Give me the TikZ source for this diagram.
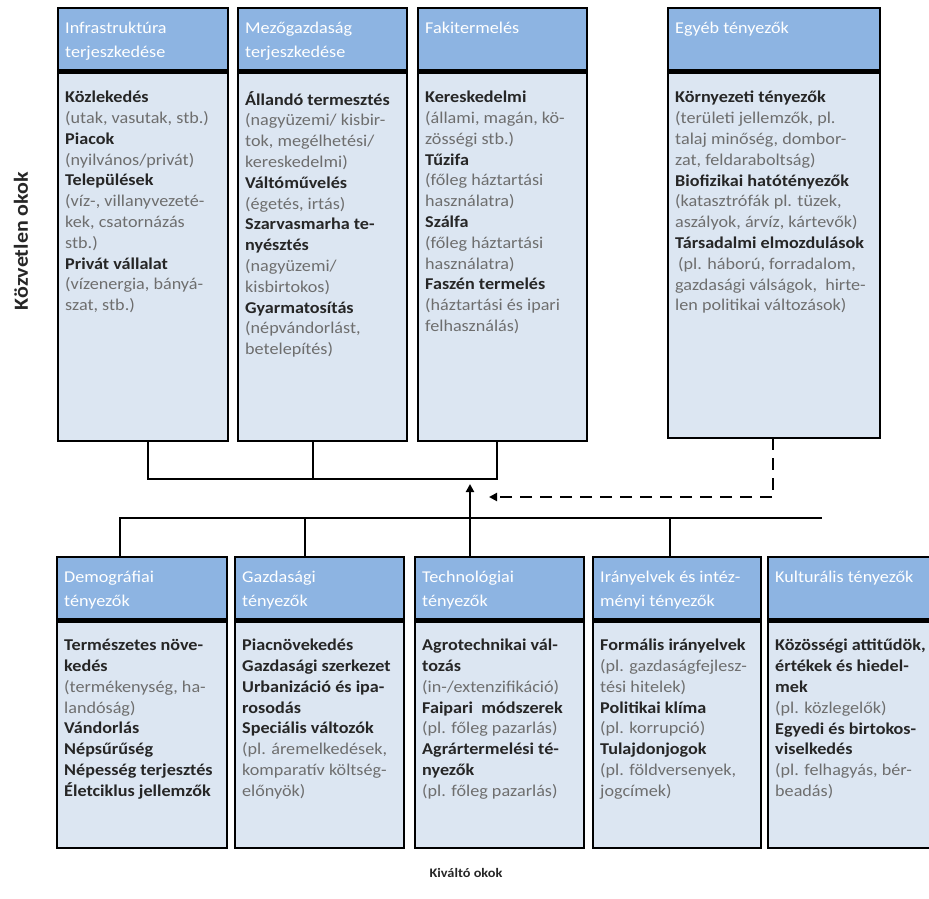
\documentclass[tikz,border=0pt]{standalone}
\usepackage{fontspec}
\setmainfont{Carlito}[FakeStretch=1.1]
\usetikzlibrary{arrows.meta,calc}

\definecolor{hdrblue}{HTML}{8DB4E2}
\definecolor{bodyblue}{HTML}{DCE6F2}
\definecolor{termcol}{HTML}{262626}
\definecolor{notecol}{HTML}{6E6E6E}

\newcommand\kterm[1]{{\bfseries\color{termcol}#1}}
\newcommand\knote[1]{{\color{notecol}#1}}

\tikzset{
  frame/.style={draw=black, line width=2.8pt, inner sep=0pt, outer sep=0pt},
  sepline/.style={line width=5pt, draw=black},
  hdrtext/.style={text=white, align=left, inner sep=0pt,
    font=\fontsize{16.5}{23.5}\selectfont},
  bodytext/.style={align=left, inner sep=0pt,
    font=\fontsize{16.5}{20.8}\selectfont},
  conn/.style={line width=2.6pt, draw=black},
  dconn/.style={line width=2.6pt, draw=black, dash pattern=on 12pt off 8pt},
  sidelabel/.style={font=\bfseries, text=termcol}
}

% #1 name, #2 left, #3 top, #4 right, #5 bottom, #6 header line, #7 header, #8 body
\newcommand\causebox[8]{%
  \fill[bodyblue] (#2,#6) rectangle (#4,#5);
  \fill[hdrblue] (#2,#3) rectangle (#4,#6);
  \draw[sepline] (#2,#6) -- (#4,#6);
  \node[frame, anchor=north west, minimum width={(#4-#2)*1pt},
        minimum height={(#5-#3)*1pt}] (#1) at (#2,#3) {};
  \node[hdrtext, anchor=north west] (#1-head) at (#2+7,#3+14) {#7};
  \node[bodytext, anchor=north west] (#1-body) at (#2+7,#6+19) {#8};
}

\begin{document}
\begin{tikzpicture}[x=1pt,y=-1pt]
\useasboundingbox (0,0) rectangle (929,899);

% upper row: direct causes
\causebox{infra}{58}{8}{228}{441}{72}{Infrastruktúra\\terjeszkedése}{%
  \kterm{Közlekedés}\\ \knote{(utak, vasutak, stb.)}\\
  \kterm{Piacok}\\ \knote{(nyilvános/privát)}\\
  \kterm{Települések}\\ \knote{(víz-, villanyvezeté-}\\
  \knote{kek, csatornázás}\\ \knote{stb.)}\\
  \kterm{Privát vállalat}\\ \knote{(vízenergia, bányá-}\\
  \knote{szat, stb.)}}
\causebox{agri}{238}{8}{407}{441}{72}{Mezőgazdaság\\terjeszkedése}{%
  \kterm{Állandó termesztés}\\ \knote{(nagyüzemi/ kisbir-}\\
  \knote{tok, megélhetési/}\\ \knote{kereskedelmi)}\\
  \kterm{Váltóművelés}\\ \knote{(égetés, irtás)}\\
  \kterm{Szarvasmarha te-}\\ \kterm{nyésztés}\\
  \knote{(nagyüzemi/}\\ \knote{kisbirtokos)}\\
  \kterm{Gyarmatosítás}\\ \knote{(népvándorlást,}\\
  \knote{betelepítés)}}
\causebox{wood}{418}{8}{587}{441}{72}{Fakitermelés}{%
  \kterm{Kereskedelmi}\\ \knote{(állami, magán, kö-}\\
  \knote{zösségi stb.)}\\ \kterm{Tűzifa}\\
  \knote{(főleg háztartási}\\ \knote{használatra)}\\
  \kterm{Szálfa}\\ \knote{(főleg háztartási}\\
  \knote{használatra)}\\ \kterm{Faszén termelés}\\
  \knote{(háztartási és ipari}\\ \knote{felhasználás)}}
\causebox{other}{668}{8}{880}{438}{72}{Egyéb tényezők}{%
  \kterm{Környezeti tényezők}\\ \knote{(területi jellemzők, pl.}\\
  \knote{talaj minőség, dombor-}\\ \knote{zat, feldaraboltság)}\\
  \kterm{Biofizikai hatótényezők}\\ \knote{(katasztrófák pl. tüzek,}\\
  \knote{aszályok, árvíz, kártevők)}\\ \kterm{Társadalmi elmozdulások}\\
  \hspace*{3pt}\knote{(pl. háború, forradalom,}\\
  \knote{gazdasági válságok,\ \ hirte-}\\ \knote{len politikai változások)}}

% lower row: underlying causes
\causebox{demo}{57}{557}{227}{848}{620}{Demográfiai\\tényezők}{%
  \kterm{Természetes növe-}\\ \kterm{kedés}\\
  \knote{(termékenység, ha-}\\ \knote{landóság)}\\
  \kterm{Vándorlás}\\ \kterm{Népsűrűség}\\
  \kterm{Népesség terjesztés}\\ \kterm{Életciklus jellemzők}}
\causebox{econ}{235}{557}{404}{848}{620}{Gazdasági\\tényezők}{%
  \kterm{Piacnövekedés}\\ \kterm{Gazdasági szerkezet}\\
  \kterm{Urbanizáció és ipa-}\\ \kterm{rosodás}\\
  \kterm{Speciális változók}\\ \knote{(pl. áremelkedések,}\\
  \knote{komparatív költség-}\\ \knote{előnyök)}}
\causebox{tech}{415}{557}{584}{848}{620}{Technológiai\\tényezők}{%
  \kterm{Agrotechnikai vál-}\\ \kterm{tozás}\\
  \knote{(in-/extenzifikáció)}\\ \kterm{Faipari\ \ módszerek}\\
  \knote{(pl. főleg pazarlás)}\\ \kterm{Agrártermelési té-}\\
  \kterm{nyezők}\\ \knote{(pl. főleg pazarlás)}}
\causebox{policy}{593}{557}{761}{848}{620}{Irányelvek és intéz-\\ményi tényezők}{%
  \kterm{Formális irányelvek}\\ \knote{(pl. gazdaságfejlesz-}\\
  \knote{tési hitelek)}\\ \kterm{Politikai klíma}\\
  \knote{(pl. korrupció)}\\ \kterm{Tulajdonjogok}\\
  \knote{(pl. földversenyek,}\\ \knote{jogcímek)}}
\causebox{cult}{768}{557}{940}{848}{620}{Kulturális tényezők}{%
  \kterm{Közösségi attitűdök,}\\ \kterm{értékek és hiedel-}\\
  \kterm{mek}\\ \knote{(pl. közlegelők)}\\
  \kterm{Egyedi és birtokos-}\\ \kterm{viselkedés}\\
  \knote{(pl. felhagyás, bér-}\\ \knote{beadás)}}

% junction points of the connectors
\coordinate (ja) at (148,479);
\coordinate (jb) at (313,479);
\coordinate (jc) at (497,479);
\coordinate (ka) at (120,518);
\coordinate (kb) at (305,518);
\coordinate (kc) at (470,518);
\coordinate (kd) at (670,518);
\coordinate (ke) at (822,518);
\coordinate (tip) at (470,484);
\coordinate (dj) at (773,497);
\coordinate (dtip) at (489,497);

% upper bus
\draw[conn] (infra.south -| ja) -- (ja) -- (jc) -- (wood.south -| jc);
\draw[conn] (agri.south -| jb) -- (jb);
% lower bus
\draw[conn] (demo.north -| ka) -- (ka) -- (ke);
\draw[conn] (econ.north -| kb) -- (kb);
\draw[conn] (policy.north -| kd) -- (kd);
\draw[conn, -{Triangle[length=8pt,width=8pt]}] (tech.north -| kc) -- (tip);
% other factors, dashed
\draw[dconn, -{Triangle[length=8pt,width=8pt]}] (other.south -| dj) -- (dj) -- (dtip);

% axis labels
\node[sidelabel, rotate=90, font=\fontsize{20}{22}\selectfont\bfseries] (direct) at (21,241) {Közvetlen okok};
\node[sidelabel, font=\fontsize{13}{15}\selectfont\bfseries] (underlying) at (466,873) {Kiváltó okok};
\end{tikzpicture}
\end{document}
